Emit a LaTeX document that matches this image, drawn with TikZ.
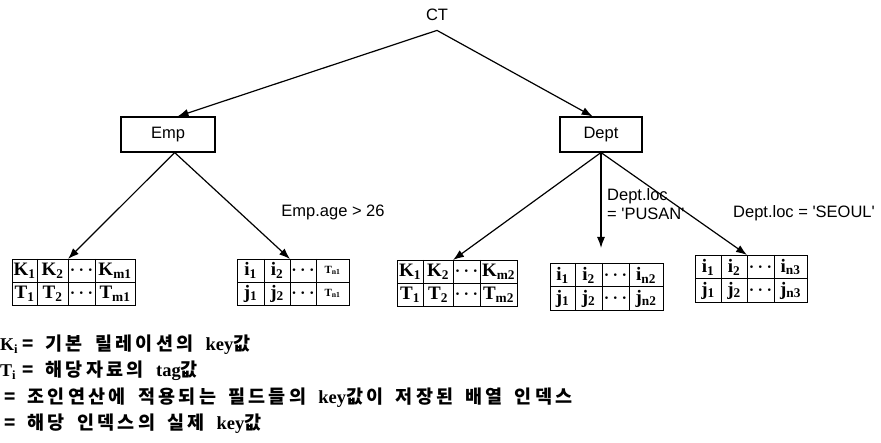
\documentclass[tikz,border=0pt]{standalone}
\usepackage{fontspec}
\setmainfont{Liberation Serif}
\newfontfamily\sans{Liberation Sans}
\newfontfamily\kr{Noto Sans CJK KR}[LetterSpace=18,WordSpace=1.6]
\usetikzlibrary{arrows.meta,calc}
% #1 name, #2-#6 column edges, #7 top, #8 bottom
\newcommand\dtable[8]{%
  \node[tbl, minimum width={#6pt-#2pt}, minimum height={#8pt-#7pt}] (#1) at (#2,#7) {};
  \draw[gl] (#2,{(#7+#8)/2}) -- (#6,{(#7+#8)/2});
  \draw[gl] (#3,#7) -- (#3,#8) (#4,#7) -- (#4,#8) (#5,#7) -- (#5,#8);
  \coordinate (#1-tip) at (#4,#7);
}
% #1 y, #2-#5 x centres, #6-#9 texts
\newcommand\cellrow[9]{%
  \node[cell] at (#2,#1) {#6};
  \node[cell] at (#3,#1) {#7};
  \node[cell] at (#4,#1) {#8};
  \node[cell] at (#5,#1) {#9};
}
\newcommand\dts{{\boldmath$\cdots$}}
\newcommand\lat[1]{{\rmfamily\bfseries #1}}
\begin{document}
\begin{tikzpicture}[x=1pt,y=-1pt,
  lbl/.style={font=\sans\fontsize{16.5}{19}\selectfont, inner sep=0pt},
  box/.style={draw, line width=1.1pt, minimum height=35pt, inner sep=0pt,
              font=\sans\fontsize{16.5}{19}\selectfont},
  conn/.style={line width=1.2pt, -{Latex[length=11pt,width=8pt]}},
  tbl/.style={draw, line width=1.4pt, anchor=north west, inner sep=0pt},
  gl/.style={line width=0.9pt},
  cell/.style={font=\bfseries\fontsize{19}{19}\selectfont, inner sep=0pt},
  small/.style={font=\bfseries\fontsize{11}{11}\selectfont, inner sep=0pt},
  lg/.style={anchor=base west, inner sep=0pt,
             font=\kr\bfseries\fontsize{18.5}{20}\selectfont},
  lgl/.style={anchor=base west, inner sep=0pt,
             font=\rmfamily\bfseries\fontsize{18}{20}\selectfont}
]
\useasboundingbox (0,0) rectangle (881,443);

% top level
\node[lbl, minimum height=30pt, anchor=north] (ct) at (437,0) {CT};
\node[box, minimum width=94pt] (emp) at (168,134.5) {Emp};
\node[box, minimum width=82pt] (dept) at (601,134.5) {Dept};

\draw[conn] (ct.south) -- ($(emp.north west)!0.6!(emp.north east)$);
\draw[conn] (ct.south) -- ($(dept.north west)!0.4!(dept.north east)$);

% tables
\dtable{t1}{12}{37}{68}{95}{135}{259}{305}
\cellrow{270.5}{24.5}{52.5}{81.5}{115}{K\textsubscript{1}}{K\textsubscript{2}}{\dts}{K\textsubscript{m1}}
\cellrow{293.5}{24.5}{52.5}{81.5}{115}{T\textsubscript{1}}{T\textsubscript{2}}{\dts}{T\textsubscript{m1}}

\dtable{t2}{237}{264}{290}{316}{349}{259}{305}
\cellrow{270.5}{250.5}{277}{303}{332.5}{i\textsubscript{1}}{i\textsubscript{2}}{\dts}{}
\cellrow{293.5}{250.5}{277}{303}{332.5}{j\textsubscript{1}}{j\textsubscript{2}}{\dts}{}
\node[small] at (332.5,270.5) {T\textsubscript{n1}};
\node[small] at (332.5,293.5) {T\textsubscript{n1}};

\dtable{t3}{397}{423}{453}{480}{517}{260}{306}
\cellrow{271.5}{410}{438}{466.5}{498.5}{K\textsubscript{1}}{K\textsubscript{2}}{\dts}{K\textsubscript{m2}}
\cellrow{294.5}{410}{438}{466.5}{498.5}{T\textsubscript{1}}{T\textsubscript{2}}{\dts}{T\textsubscript{m2}}

\dtable{t4}{550}{575}{602}{629}{663}{263}{310}
\cellrow{275}{562.5}{588.5}{615.5}{646}{i\textsubscript{1}}{i\textsubscript{2}}{\dts}{i\textsubscript{n2}}
\cellrow{298.5}{562.5}{588.5}{615.5}{646}{j\textsubscript{1}}{j\textsubscript{2}}{\dts}{j\textsubscript{n2}}

\dtable{t5}{695}{721}{747}{774}{807}{255}{302}
\cellrow{267}{708}{734}{760.5}{790.5}{i\textsubscript{1}}{i\textsubscript{2}}{\dts}{i\textsubscript{n3}}
\cellrow{290.5}{708}{734}{760.5}{790.5}{j\textsubscript{1}}{j\textsubscript{2}}{\dts}{j\textsubscript{n3}}

% connectors to tables
\coordinate (empS) at ($(emp.south west)!0.57!(emp.south east)$);
\coordinate (pusan) at (601,248);
\draw[conn] (empS) -- (t1-tip);
\draw[conn] (empS) -- (t2-tip);
\draw[conn] (dept.south) -- (t3-tip);
\draw[conn] (dept.south) -- (pusan);
\draw[conn] (dept.south) -- (t5-tip);

% labels
\node[lbl] (ea) at (333,212) {Emp.age > 26};
\node[lbl, anchor=west, align=left] (pl) at (607,204) {Dept.loc\\= \textquotesingle PUSAN\textquotesingle};
\node[lbl, anchor=west] (sl) at (733,213) {Dept.loc = \textquotesingle SEOUL\textquotesingle};

% legend
\node[lgl] (lk) at (0,351) {K\textsubscript{i}};
\node[lg] (l1) at (22,351) {= 기본 릴레이션의 \lat{key}값};
\node[lgl] (lt) at (0,377) {T\textsubscript{i}};
\node[lg] (l2) at (22,377) {= 해당자료의 \lat{tag}값};
\node[lg] (l3) at (4,404) {= 조인연산에 적용되는 필드들의 \lat{key}값이 저장된 배열 인덱스};
\node[lg] (l4) at (4,430) {= 해당 인덱스의 실제 \lat{key}값};
\end{tikzpicture}
\end{document}
